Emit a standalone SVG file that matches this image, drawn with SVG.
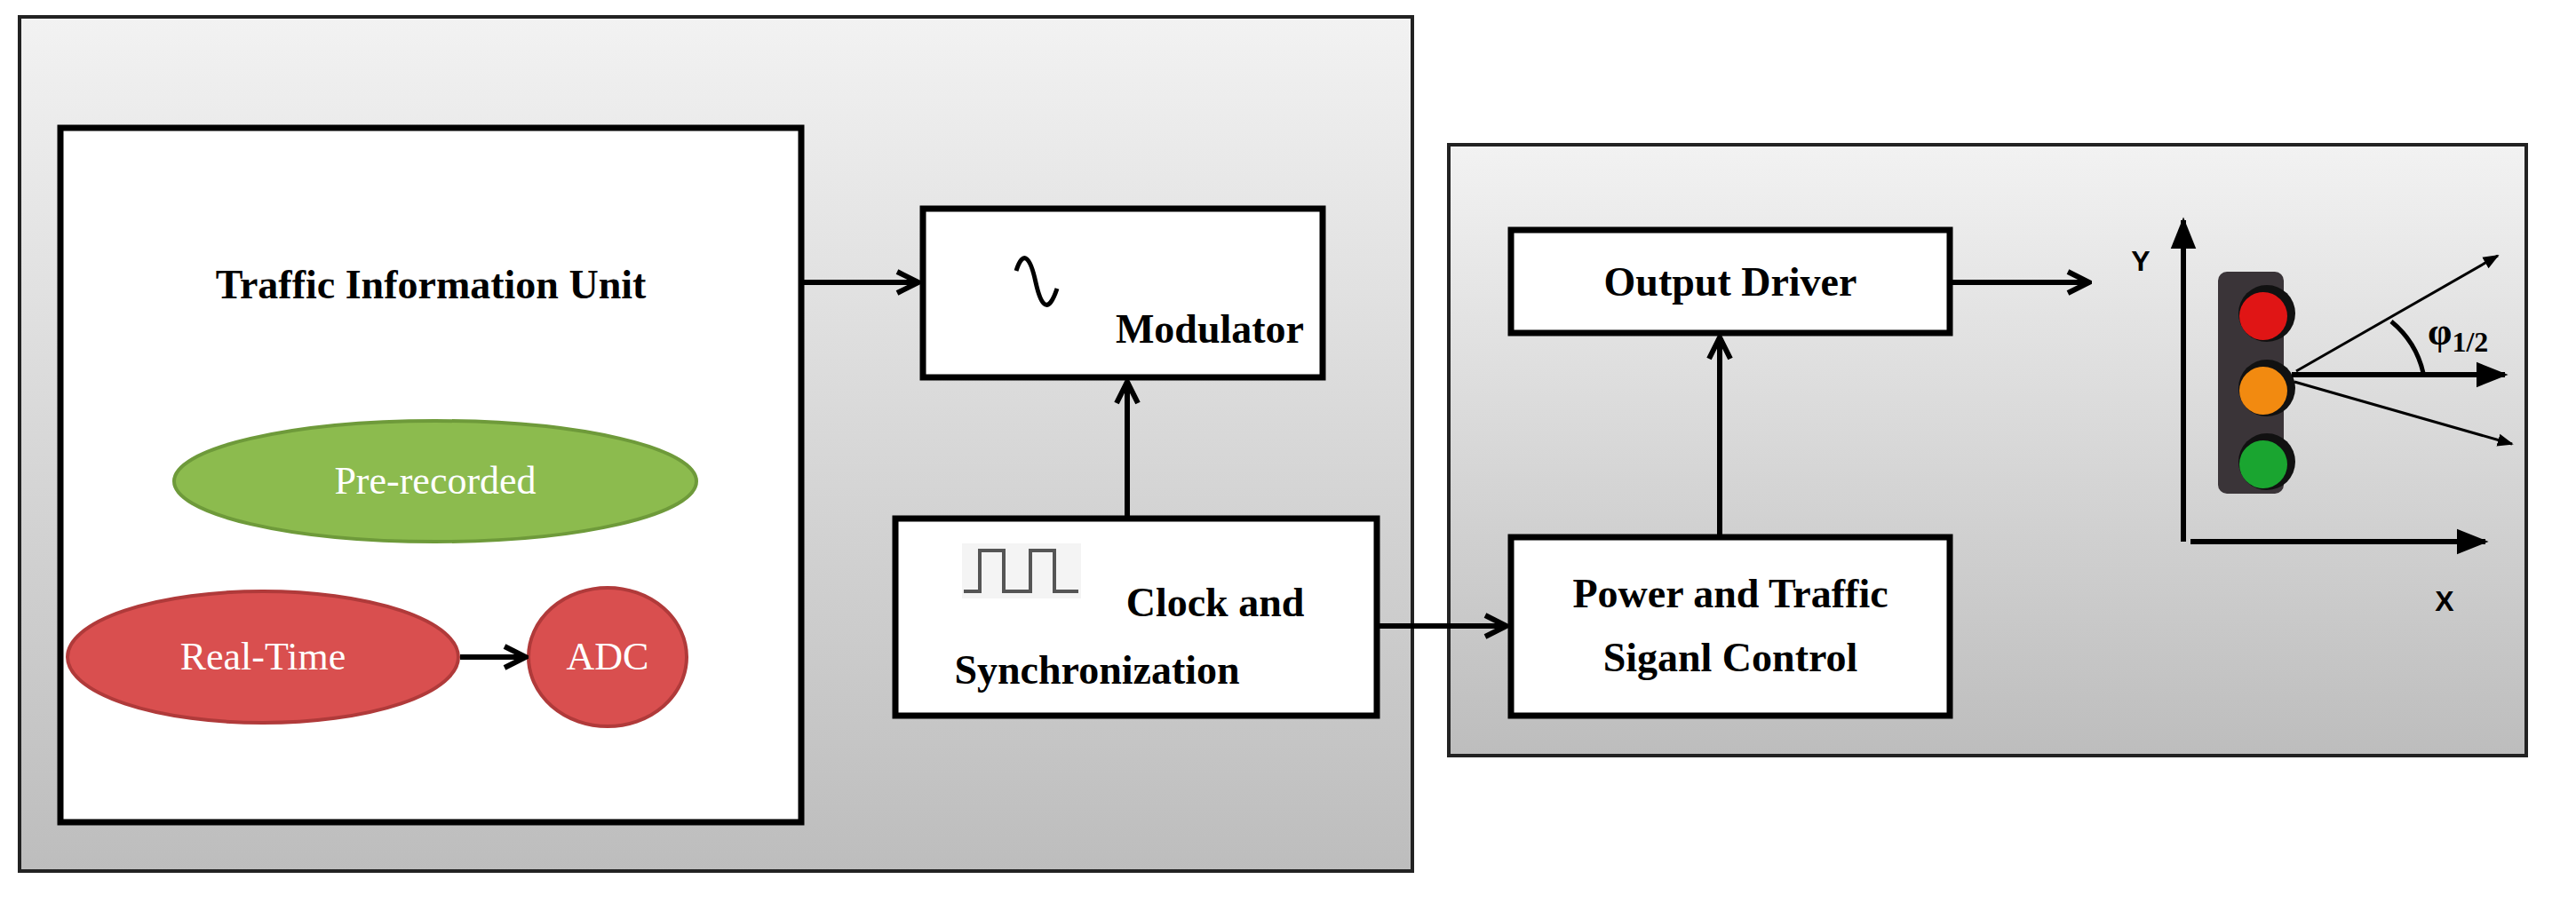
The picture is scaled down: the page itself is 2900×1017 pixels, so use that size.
<svg xmlns="http://www.w3.org/2000/svg" width="2900" height="1017" viewBox="0 0 2900 1017">
<defs>
<linearGradient id="bg" x1="0" y1="0" x2="0" y2="1"><stop offset="0" stop-color="#f2f2f2"/><stop offset="1" stop-color="#bdbdbd"/></linearGradient>
<marker id="ar" viewBox="0 0 10 10" refX="9" refY="5" markerWidth="5" markerHeight="5" orient="auto"><path d="M1,1 L9,5 L1,9" fill="none" stroke="#000" stroke-width="2"/></marker>
<marker id="tri" viewBox="0 0 10 10" refX="9" refY="5" markerWidth="6" markerHeight="6" orient="auto"><path d="M0,1 L10,5 L0,9 z" fill="#000"/></marker>
<style>
.panel{fill:url(#bg);stroke:#222;stroke-width:4}
.box{fill:#fff;stroke:#000;stroke-width:7}
.t{font-family:"Liberation Serif",serif;font-weight:bold;font-size:46px;fill:#000;text-anchor:middle}
.e{font-family:"Liberation Serif",serif;font-size:44px;fill:#fff;text-anchor:middle}
.c{stroke:#000;stroke-width:6;fill:none;marker-end:url(#ar)}
.ax{stroke:#000;stroke-width:6;fill:none;marker-end:url(#tri)}
.ray{stroke:#000;stroke-width:3;fill:none;marker-end:url(#tri)}
.s{font-family:"Liberation Sans",sans-serif;font-weight:bold;font-size:32px;fill:#000;text-anchor:middle}
</style>
</defs>
<rect x="0" y="0" width="2900" height="1017" fill="#fff"/>
<g id="left-panel"><rect class="panel" x="22" y="19" width="1568" height="962"/></g>
<g id="right-panel"><rect class="panel" x="1631" y="163" width="1213" height="688"/></g>
<g id="tiu"><rect class="box" x="68" y="144" width="834" height="782"/><text class="t" x="485" y="336">Traffic Information Unit</text></g>
<g id="prerecorded"><ellipse cx="490" cy="542" rx="294" ry="68" fill="#8cbb4e" stroke="#6e9a3a" stroke-width="4"/><text class="e" x="490" y="556">Pre-recorded</text></g>
<g id="realtime"><ellipse cx="296" cy="740" rx="220" ry="74" fill="#d94f4f" stroke="#b03a3a" stroke-width="4"/><text class="e" x="296" y="754">Real-Time</text></g>
<g id="adc"><ellipse cx="684" cy="740" rx="89" ry="78" fill="#d94f4f" stroke="#b03a3a" stroke-width="4"/><text class="e" x="684" y="754">ADC</text></g>
<g id="modulator"><rect class="box" x="1039" y="235" width="450" height="190"/><path d="M1144,305 C1152,280 1160,290 1166,318 C1172,345 1180,355 1190,325" fill="none" stroke="#000" stroke-width="5"/><text class="t" x="1362" y="386">Modulator</text></g>
<g id="clock"><rect class="box" x="1008" y="584" width="542" height="222"/><rect x="1083" y="612" width="134" height="62" fill="#f4f4f4"/><path d="M1085,666 H1103 V620 H1130 V666 H1160 V620 H1187 V666 H1214" fill="none" stroke="#555" stroke-width="4"/><text class="t" x="1368" y="694">Clock and</text><text class="t" x="1235" y="770">Synchronization</text></g>
<g id="power"><rect class="box" x="1701" y="605" width="494" height="201"/><text class="t" x="1948" y="684">Power and Traffic</text><text class="t" x="1948" y="756">Siganl Control</text></g>
<g id="output"><rect class="box" x="1701" y="259" width="494" height="116"/><text class="t" x="1948" y="333">Output Driver</text></g>
<g id="connectors">
<line class="c" x1="518" y1="740" x2="592" y2="740"/>
<line class="c" x1="902" y1="318" x2="1034" y2="318"/>
<line class="c" x1="1269" y1="584" x2="1269" y2="430"/>
<line class="c" x1="1550" y1="705" x2="1696" y2="705"/>
<line class="c" x1="1936" y1="605" x2="1936" y2="380"/>
<line class="c" x1="2195" y1="318" x2="2352" y2="318"/>
</g>
<g id="traffic-light">
<line class="ax" x1="2458" y1="610" x2="2458" y2="248"/>
<line class="ax" x1="2466" y1="610" x2="2798" y2="610"/>
<text class="s" x="2410" y="305">Y</text>
<text class="s" x="2752" y="688">X</text>
<rect x="2497" y="306" width="74" height="250" rx="10" fill="#3a3438"/>
<circle cx="2552" cy="353" r="32" fill="#111"/><circle cx="2548" cy="356" r="27" fill="#e01515"/>
<circle cx="2552" cy="437" r="32" fill="#111"/><circle cx="2548" cy="440" r="27" fill="#f28a10"/>
<circle cx="2552" cy="520" r="32" fill="#111"/><circle cx="2548" cy="523" r="27" fill="#1aa530"/>
<line class="ray" x1="2585" y1="418" x2="2812" y2="288"/>
<line class="ax" x1="2580" y1="422" x2="2820" y2="422"/>
<line class="ray" x1="2583" y1="430" x2="2828" y2="500"/>
<path d="M2692,362 Q2720,385 2728,420" fill="none" stroke="#000" stroke-width="5"/>
<text x="2733" y="388" font-family="Liberation Serif,serif" font-weight="bold" font-size="44">φ<tspan font-size="32" dy="8">1/2</tspan></text>
</g>
</svg>
